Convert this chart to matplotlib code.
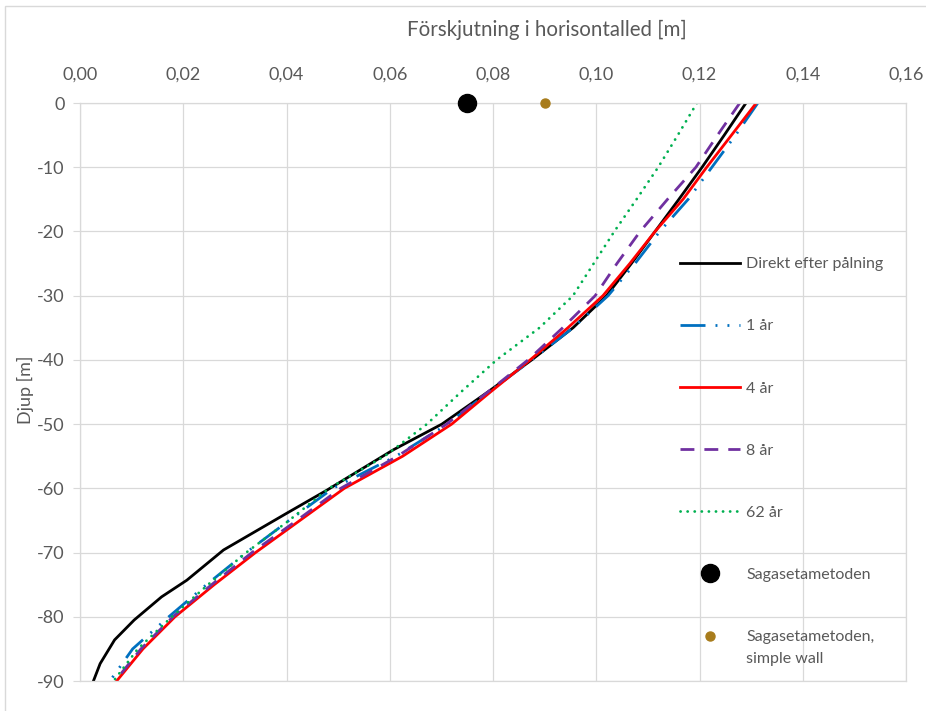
import numpy as np
import matplotlib
matplotlib.use("Agg")
import matplotlib.pyplot as plt
from matplotlib.ticker import FuncFormatter
from matplotlib.patches import Rectangle

plt.rcParams['font.family'] = ['Lato', 'DejaVu Sans']

# depth [m] and horizontal displacement [m] for each time step
depth = [0, -5, -10, -15, -20, -25, -30, -35, -40, -45, -50, -55, -60, -65, -70, -75, -80, -85, -90]

direkt_depth = [0, -5, -10, -15, -20, -25, -30, -35, -40, -45, -50, -54, -58, -60.3, -63.9,
                -69.6, -74.3, -76.9, -80.5, -83.6, -87.3, -90]
direkt_x = [0.129, 0.1248, 0.1205, 0.116, 0.1114, 0.1068, 0.102, 0.0955, 0.0875, 0.079, 0.0701,
            0.0607, 0.0525, 0.0478, 0.040, 0.0278, 0.0207, 0.0158, 0.0105, 0.0067, 0.0039, 0.0026]

ar1_x = [0.1313, 0.127, 0.1224, 0.1178, 0.1123, 0.1075, 0.1023, 0.0955, 0.0875, 0.0792, 0.0712,
         0.0612, 0.049, 0.0405, 0.0322, 0.0245, 0.0172, 0.0102, 0.0058]
ar4_x = [0.131, 0.1262, 0.1214, 0.1168, 0.1114, 0.1065, 0.1013, 0.0945, 0.0872, 0.0795, 0.072,
         0.0625, 0.0512, 0.0426, 0.034, 0.026, 0.0184, 0.0122, 0.0071]
ar8_x = [0.1278, 0.1235, 0.1193, 0.1138, 0.1085, 0.104, 0.0998, 0.0935, 0.0868, 0.079, 0.071,
         0.0615, 0.0505, 0.042, 0.0333, 0.0255, 0.018, 0.0118, 0.0068]
ar62_x = [0.1195, 0.1158, 0.112, 0.1078, 0.1035, 0.0995, 0.0955, 0.089, 0.0807, 0.0738, 0.0672,
          0.059, 0.0482, 0.0405, 0.0322, 0.0248, 0.0178, 0.0112, 0.0065]

sagaseta_x, sagaseta_y = [0.075], [0]
wall_x, wall_y = [0.09], [0]

xticks = np.arange(0, 0.161, 0.02)
yticks = np.arange(0, -91, -10)

grey = '#d9d9d9'
txt = '#595959'

fig = plt.figure(figsize=(9.26, 7.11), dpi=100)
W, H = 926.0, 711.0
ax = fig.add_axes([80 / W, 1 - 681 / H, 826 / W, 578 / H])

# chart area frame
fig.patches.append(Rectangle((5 / W, -0.1), 1.2, 1.1 - 6 / H, transform=fig.transFigure,
                             fill=False, edgecolor=grey, lw=1.0))

lw = 2.0
ax.plot(direkt_x, direkt_depth, color='black', lw=lw, label='Direkt efter pålning')
ax.plot(ar1_x, depth, color='#0070c0', lw=lw, dashes=(9, 3.6, 0.7, 3.6, 0.7, 3.6), label='1 år')
ax.plot(ar4_x, depth, color='#ff0000', lw=lw, label='4 år')
ax.plot(ar8_x, depth, color='#7030a0', lw=lw, dashes=(5, 3.6), label='8 år')
ax.plot(ar62_x, depth, color='#00b050', lw=lw, dashes=(0.05, 2.5), dash_capstyle='round',
        label='62 år')
ax.plot(sagaseta_x, sagaseta_y, 'o', color='black', ms=13, clip_on=False, zorder=5,
        label='Sagasetametoden')
ax.plot(wall_x, wall_y, 'o', color='#a87c1c', ms=6.5, clip_on=False, zorder=5,
        label='Sagasetametoden,')

ax.set_xlim(0, 0.16)
ax.set_ylim(-90, 0)
ax.set_xticks(xticks)
ax.set_yticks(yticks)
ax.xaxis.set_major_formatter(FuncFormatter(lambda v, p: ('%.2f' % v).replace('.', ',')))
ax.yaxis.set_major_formatter(FuncFormatter(lambda v, p: '%d' % round(v)))
ax.xaxis.tick_top()
ax.tick_params(axis='x', length=0, pad=15, labelsize=13, labelcolor=txt)
ax.tick_params(axis='y', length=5, width=0.8, color=grey, pad=6, labelsize=13, labelcolor=txt)
ax.grid(True, color=grey, lw=0.9)
ax.set_axisbelow(True)
for s in ax.spines.values():
    s.set_color(grey)
    s.set_linewidth(0.9)

fig.text(546.5 / W, 1 - 30 / H, 'Förskjutning i horisontalled [m]', ha='center', va='center',
         fontsize=14.8, color=txt)
fig.text(25 / W, 1 - 390 / H, 'Djup [m]', ha='center', va='center', rotation=90,
         fontsize=13, color=txt)

fs = 11.5
fpx = fs * 100 / 72.0
leg = ax.legend(loc='upper left', bbox_to_anchor=(680 / W, 1 - 257 / H),
                bbox_transform=fig.transFigure, frameon=False, fontsize=fs,
                borderpad=0, borderaxespad=0, handlelength=60 / fpx, handletextpad=6 / fpx,
                labelspacing=(62 - 14) / fpx, numpoints=1)
for t in leg.get_texts():
    t.set_color(txt)

# second line of the last legend label
fig.canvas.draw()
bb = leg.get_texts()[-1].get_window_extent()
fig.text(bb.x0 / W, (bb.y0 + bb.y1) / 2 / H - 22 / H, 'simple wall', ha='left', va='center',
         fontsize=fs, color=txt)

fig.savefig('out.png', dpi=100)
